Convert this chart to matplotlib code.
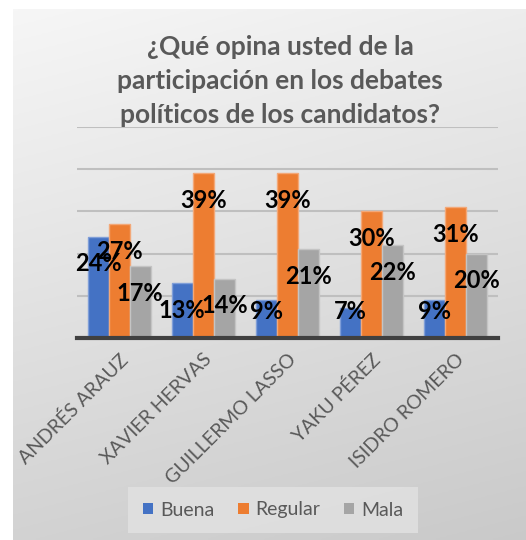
import matplotlib
matplotlib.use("Agg")
import matplotlib.pyplot as plt
import numpy as np

categories = ["ANDRÉS ARAUZ", "XAVIER HERVAS", "GUILLERMO LASSO", "YAKU PÉREZ", "ISIDRO ROMERO"]
series_names = ["Buena", "Regular", "Mala"]
buena = [24, 13, 9, 7, 9]
regular = [27, 39, 39, 30, 31]
mala = [17, 14, 21, 22, 20]
colors = ["#4472C4", "#ED7D31", "#A5A5A5"]
edges = ["#7f9ed8", "#f3a878", "#c4c4c4"]
title = "¿Qué opina usted de la\nparticipación en los debates\npolíticos de los candidatos?"

W, H = 526, 540
fig = plt.figure(figsize=(W / 100, H / 100), dpi=100)
fig.patch.set_facecolor("white")

# gradient background panel
bg = fig.add_axes([13 / W, 0, 1 - 13 / W, (H - 9) / H], zorder=-10)
ny, nx = 200, 200
yy, xx = np.mgrid[0:1:ny * 1j, 0:1:nx * 1j]
t = 0.8 * yy + 0.2 * xx
top = np.array([0.965, 0.965, 0.965])
bot = np.array([0.79, 0.79, 0.79])
img = top[None, None, :] * (1 - t[..., None]) + bot[None, None, :] * t[..., None]
bg.imshow(img, aspect="auto", extent=[0, 1, 1, 0])
bg.set_axis_off()

ax = fig.add_axes([77 / W, (H - 338) / H, 421 / W, (338 - 127) / H])
ax.set_facecolor("none")
x = np.arange(len(categories))
bw = 0.25
data = [buena, regular, mala]
for i, (vals, c, ec) in enumerate(zip(data, colors, edges)):
    xs = x + (i - 1) * bw
    ax.bar(xs, vals, width=bw, color=c, edgecolor=ec, linewidth=1.0, zorder=3,
           label=series_names[i])
    for xv, v in zip(xs, vals):
        ax.text(xv, max(v - 6.4, 6.2), f"{v}%", ha="center", va="center",
                fontsize=17, fontweight="bold", family="Lato", color="black", zorder=5)

ax.set_xlim(-0.5, len(categories) - 0.5)
ax.set_ylim(0, 50)
ax.set_yticks(np.arange(0, 51, 10))
ax.yaxis.grid(True, color="#bfbfbf", linewidth=1.5, zorder=0)
ax.tick_params(axis="y", length=0, labelleft=False)
ax.tick_params(axis="x", length=0, pad=9)
for s in ["top", "right", "left"]:
    ax.spines[s].set_visible(False)
ax.spines["bottom"].set_color("#404040")
ax.spines["bottom"].set_linewidth(3)
ax.spines["bottom"].set_zorder(4)
ax.set_xticks(x)
ax.set_xticklabels(categories, rotation=45, ha="right", rotation_mode="anchor",
                   fontsize=14, family="Lato", color="#595959")
for lbl in ax.get_xticklabels():
    lbl.set_x(lbl.get_position()[0])

fig.text(280 / W, 1 - 81 / H, title, ha="center", va="center", fontsize=19,
         fontweight="bold", family="Lato", color="#595959", linespacing=1.5)

leg = fig.legend(loc="center", bbox_to_anchor=(273 / W, 1 - 510 / H), ncol=3,
                 frameon=True, fancybox=False, prop={"family": "Lato", "size": 14},
                 handlelength=0.55, handleheight=0.55, handletextpad=0.35,
                 columnspacing=1.2, borderpad=0.75, borderaxespad=0)
leg.get_frame().set_facecolor("#e2e2e2")
leg.get_frame().set_edgecolor("none")
leg.get_frame().set_alpha(0.8)
for t_ in leg.get_texts():
    t_.set_color("#595959")
for h in leg.legend_handles:
    h.set_edgecolor("none")

fig.savefig("out.png", dpi=100)
